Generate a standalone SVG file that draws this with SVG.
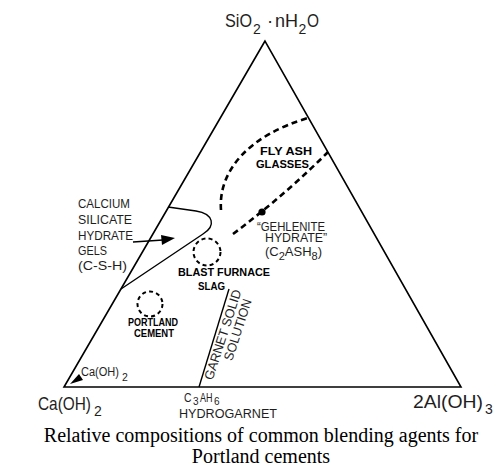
<svg xmlns="http://www.w3.org/2000/svg" width="496" height="473" viewBox="0 0 496 473">
<style>
.t{font-family:"Liberation Sans",Arial,sans-serif;fill:#1e1e1e;}
.b{font-family:"Liberation Sans",Arial,sans-serif;font-weight:bold;fill:#000;}
.cap{font-family:"Liberation Serif","Times New Roman",serif;font-size:20px;fill:#000;text-anchor:middle;}
.edge{fill:none;stroke:#000;stroke-width:1.6;stroke-linejoin:miter;}
.thin{fill:none;stroke:#000;stroke-width:1.4;}
.dash{fill:none;stroke:#000;stroke-width:2.6;stroke-dasharray:6 4;}
.dcirc{fill:none;stroke:#000;stroke-width:2;stroke-dasharray:4 3.2;}
</style>
<rect width="496" height="473" fill="#fff"/>

<g id="triangle">
<polygon class="edge" points="265,41 64,387 461,387"/>
</g>

<g id="apex-label">
<text class="t" font-size="18.5"><tspan x="225" y="27" textLength="27" lengthAdjust="spacingAndGlyphs">SiO</tspan><tspan x="253" y="34" font-size="14">2</tspan><tspan x="267" y="27">·</tspan><tspan x="275" y="27" textLength="23" lengthAdjust="spacingAndGlyphs">nH</tspan><tspan x="298.5" y="34" font-size="14">2</tspan><tspan x="307" y="27" textLength="12" lengthAdjust="spacingAndGlyphs">O</tspan></text>
</g>

<g id="left-label">
<text class="t" font-size="18.5"><tspan x="38" y="410" textLength="53" lengthAdjust="spacingAndGlyphs">Ca(OH)</tspan><tspan x="94" y="416" font-size="14">2</tspan></text>
</g>

<g id="right-label">
<text class="t" font-size="18.5"><tspan x="413" y="408" textLength="70" lengthAdjust="spacingAndGlyphs">2Al(OH)</tspan><tspan x="485" y="414" font-size="14">3</tspan></text>
</g>

<g id="csh-region">
<path class="thin" d="M168,207 L196,211 C214,214 216,226 203,234 L121,289"/>
<text class="t" font-size="13.5" x="78" y="208" textLength="52" lengthAdjust="spacingAndGlyphs">CALCIUM</text>
<text class="t" font-size="13.5" x="78" y="224" textLength="54" lengthAdjust="spacingAndGlyphs">SILICATE</text>
<text class="t" font-size="13.5" x="78" y="239.5" textLength="55" lengthAdjust="spacingAndGlyphs">HYDRATE</text>
<text class="t" font-size="13.5" x="78" y="255" textLength="29" lengthAdjust="spacingAndGlyphs">GELS</text>
<text class="t" font-size="13.5" x="78" y="270" textLength="49" lengthAdjust="spacingAndGlyphs">(C-S-H)</text>
</g>

<g id="connectors">
<line class="thin" x1="133" y1="242" x2="163" y2="240"/>
<polygon points="175,238 161,235 162,245" fill="#000"/>
<polygon points="70,384 79,374 83,380" fill="#000"/>
<path class="thin" d="M199,387 L229,289"/>
</g>

<g id="calcium-hydroxide-arrow-label">
<text class="t" font-size="12.5"><tspan x="81" y="376" textLength="38" lengthAdjust="spacingAndGlyphs">Ca(OH)</tspan><tspan x="122" y="381" font-size="10.5">2</tspan></text>
</g>

<g id="fly-ash">
<path class="dash" d="M221,210 C218,170 250,135 308,118"/>
<text class="b" font-size="11.5" x="260" y="155" textLength="52" lengthAdjust="spacingAndGlyphs">FLY ASH</text>
<text class="b" font-size="11.5" x="256" y="168" textLength="53" lengthAdjust="spacingAndGlyphs">GLASSES</text>
</g>

<g id="gehlenite">
<path class="dash" d="M233,234 Q285,195 328,152"/>
<circle cx="262" cy="212" r="3.6" fill="#000"/>
<text class="t" font-size="13" x="257" y="231" textLength="68" lengthAdjust="spacingAndGlyphs">“GEHLENITE</text>
<text class="t" font-size="13" x="265" y="242" textLength="62" lengthAdjust="spacingAndGlyphs">HYDRATE”</text>
<text class="t" font-size="13"><tspan x="265" y="256">(C</tspan><tspan font-size="11" y="260">2</tspan><tspan y="256">ASH</tspan><tspan font-size="11" y="260">8</tspan><tspan y="256">)</tspan></text>
</g>

<g id="blast-furnace-slag">
<circle class="dcirc" cx="207" cy="252" r="13.5"/>
<text class="b" font-size="11.5" x="178" y="276" textLength="92" lengthAdjust="spacingAndGlyphs">BLAST FURNACE</text>
<text class="b" font-size="11.5" x="198" y="290" textLength="27" lengthAdjust="spacingAndGlyphs">SLAG</text>
</g>

<g id="portland-cement">
<circle class="dcirc" cx="150" cy="304" r="12.5"/>
<text class="b" font-size="10.5" x="128" y="326" textLength="50" lengthAdjust="spacingAndGlyphs">PORTLAND</text>
<text class="b" font-size="10.5" x="134" y="337" textLength="40" lengthAdjust="spacingAndGlyphs">CEMENT</text>
</g>

<g id="garnet">
<text class="t" font-size="13" text-anchor="middle" transform="translate(227,336) rotate(-72)" textLength="94" lengthAdjust="spacingAndGlyphs">GARNET SOLID</text>
<text class="t" font-size="13" text-anchor="middle" transform="translate(242,331) rotate(-72)" textLength="64" lengthAdjust="spacingAndGlyphs">SOLUTION</text>
<text class="t" font-size="12"><tspan x="184" y="402" textLength="7.5" lengthAdjust="spacingAndGlyphs">C</tspan><tspan x="193" y="404.5" font-size="10">3</tspan><tspan x="200" y="402" textLength="12.5" lengthAdjust="spacingAndGlyphs">AH</tspan><tspan x="214" y="404.5" font-size="10">6</tspan></text>
<text class="t" font-size="12" x="179" y="418" textLength="98" lengthAdjust="spacingAndGlyphs">HYDROGARNET</text>
</g>

<g id="caption">
<text class="cap" x="261" y="442">Relative compositions of common blending agents for</text>
<text class="cap" x="261" y="463">Portland cements</text>
</g>
</svg>
